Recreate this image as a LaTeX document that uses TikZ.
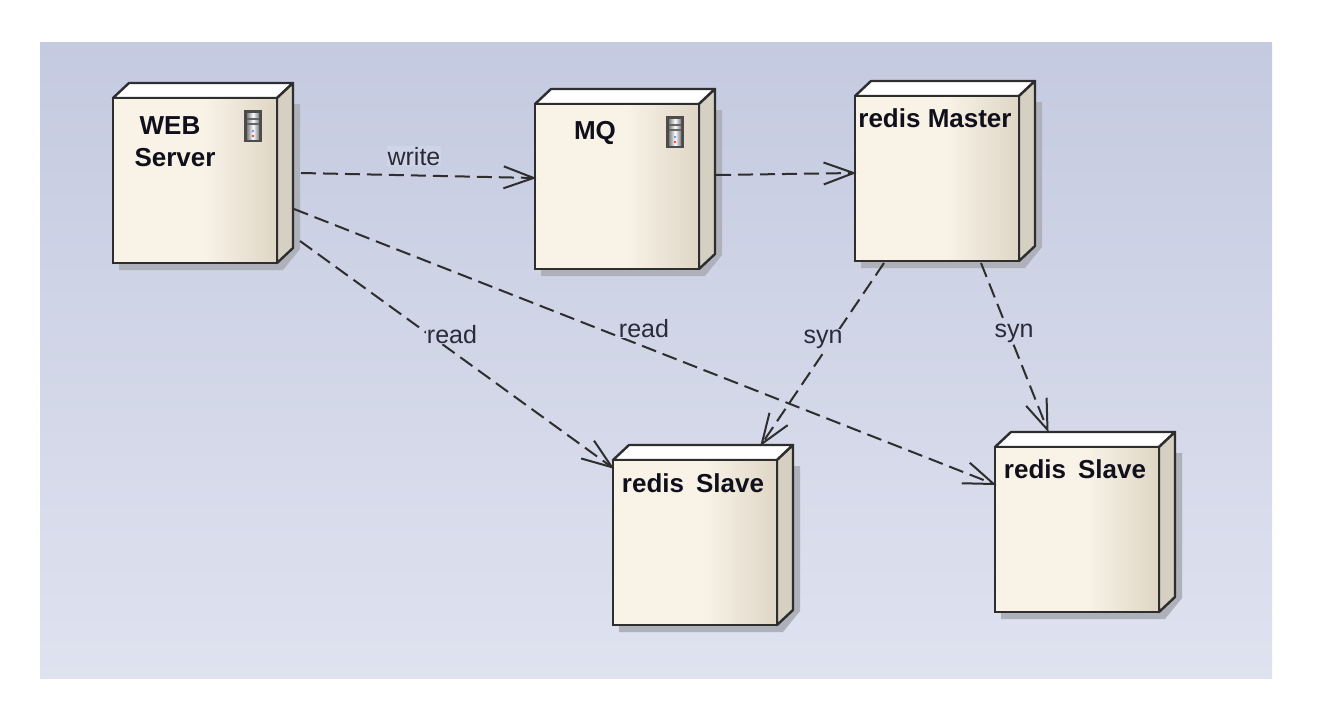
\documentclass[tikz,border=0pt]{standalone}
\usepackage{fontspec}
\usepackage{xcolor}
\usepackage{tikz}
\usetikzlibrary{arrows.meta}
\setmainfont{Liberation Sans}

\definecolor{bgtop}{HTML}{C4CAE0}
\definecolor{bgbottom}{HTML}{DFE2EF}
\definecolor{labelbg}{HTML}{CFD4E7}
\definecolor{boxline}{HTML}{2E2E2E}
\definecolor{boxside}{HTML}{D6D0C3}
\definecolor{boxlight}{HTML}{F8F2E7}
\definecolor{boxdark}{HTML}{DFD6C5}
\definecolor{boxshadow}{HTML}{AEB0BA}
\definecolor{labeltext}{HTML}{2A2A38}
\definecolor{boxtext}{HTML}{10101C}
\pgfdeclarehorizontalshading{boxface}{100bp}{
  color(0bp)=(boxlight); color(53bp)=(boxlight); color(75bp)=(boxdark); color(100bp)=(boxdark)}

\tikzset{
  nodebox/.style={rectangle,draw=boxline,line width=2.4pt,shading=boxface,outer sep=0pt,
    minimum width=164pt,minimum height=165pt,anchor=north west,inner sep=0pt},
  nodetext/.style={font=\bfseries\fontsize{26}{32}\selectfont,text=boxtext,align=center},
  linktext/.style={font=\fontsize{25}{29}\selectfont,text=labeltext,fill=labelbg,
    inner xsep=0.5pt,inner ysep=1pt,anchor=base},
  link/.style={draw=boxline,line width=2pt,dash pattern=on 15pt off 7pt,shorten >=-1.5pt,
    -{Straight Barb[length=30pt,width=22pt,line width=2pt]}},
  servericon/.pic={
    \fill[black!70] (0,0) rectangle (18,32);
    \shade[left color=black!50,right color=black!50,middle color=white] (3,3) rectangle (15,29);
    \fill[black!60] (3,8) rectangle (15,10);
    \fill[black!60] (3,13) rectangle (15,15);
    \fill[blue!45] (8,20) rectangle (10,22);
    \fill[red!70] (8,25) rectangle (10,27);
  }
}

\begin{document}
\begin{tikzpicture}[x=1pt,y=-1pt]
    \useasboundingbox (0,0) rectangle (1318,712);
    \shade[top color=bgtop,bottom color=bgbottom] (40,42) rectangle (1272,678);

    % boxes
    \foreach \name/\px/\py in {web/113/98,mq/535/104,master/855/96,slaveone/613/460,slavetwo/995/447} {
        \fill[boxshadow] (\px+22,\py+6) -- (\px+187,\py+6) -- (\px+187,\py+151) -- (\px+170,\py+172) -- (\px+6,\py+172) -- (\px+6,\py+165) -- cycle;
        \filldraw[fill=white,draw=boxline,line width=2.4pt,line join=round] (\px,\py) -- (\px+16,\py-15) -- (\px+180,\py-15) -- (\px+164,\py) -- cycle;
        \filldraw[fill=boxside,draw=boxline,line width=2.4pt,line join=round] (\px+164,\py) -- (\px+180,\py-15) -- (\px+180,\py+150) -- (\px+164,\py+165) -- cycle;
        \node[nodebox] (\name) at (\px,\py) {};
    }

    % texts in the boxes
    \node[nodetext] (webtext) at (175,142) {WEB\hspace*{10pt}\\Server};
    \node[nodetext] (mqtext) at (595,133) {MQ};
    \node[nodetext] (mastertext) at (935,118) {redis Master};
    \node[nodetext] (slaveonetext) at (693,483) {redis\hspace*{12pt}Slave};
    \node[nodetext] (slavetwotext) at (1075,469) {redis\hspace*{12pt}Slave};

    \pic at (244,110) {servericon};
    \pic at (666,116) {servericon};

    % links
    \draw[link] ([shift={(24,-7.5)}]web.east) -- ([shift={(0,-8.5)}]mq.west);
    \draw[link] ([shift={(17,-11.5)}]mq.east) -- ([shift={(0,-5.5)}]master.west);
    \draw[link] ([shift={(23,60.5)}]web.east) -- ([shift={(0,8)}]slaveone.north west);
    \draw[link] ([shift={(17,28.5)}]web.east) -- ([shift={(0,-45)}]slavetwo.west);
    \draw[link] ([shift={(-53,2)}]master.south) -- ([shift={(66,-15)}]slaveone.north);
    \draw[link] ([shift={(44,2)}]master.south) -- ([shift={(-29,-16)}]slavetwo.north);

    \node[linktext] (writelabel) at (414,165) {write};
    \node[linktext] (readone) at (452,343) {read};
    \node[linktext] (readtwo) at (644,337) {read};
    \node[linktext] (synone) at (823,343) {syn};
    \node[linktext] (syntwo) at (1014,337) {syn};
\end{tikzpicture}
\end{document}
